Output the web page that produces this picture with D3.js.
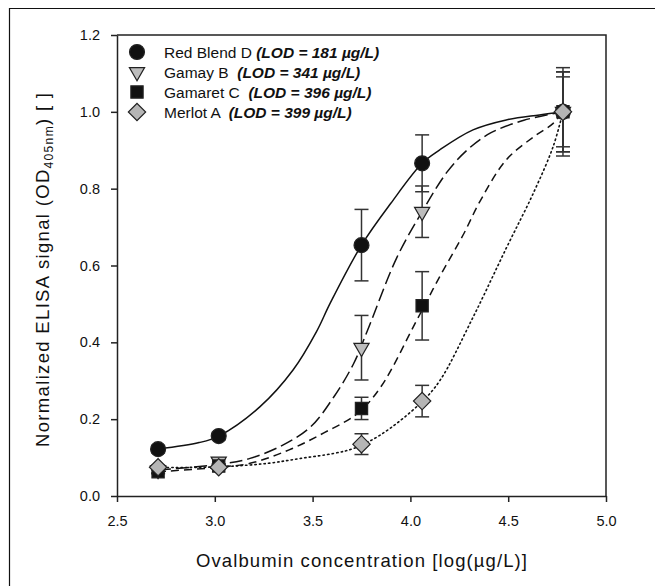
<!DOCTYPE html>
<html>
<head>
<meta charset="utf-8">
<script src="https://cdn.jsdelivr.net/npm/d3@7"></script>
<style>
  body { margin: 0; background: #fff; }
  text { font-family: "Liberation Sans", Arial, sans-serif; fill: #111; }
</style>
</head>
<body>
<svg width="655" height="586"></svg>
<script>
// measured points
const concentrations = [2.71, 3.02, 3.75, 4.06, 4.78];

const redBlendD = [0.122, 0.156, 0.653, 0.866, 1.0];
const redBlendDErr = [0.01, 0.01, 0.093, 0.074, 0.115];
const gamayB = [0.068, 0.09, 0.386, 0.740, 1.0];
const gamayBErr = [0.008, 0.008, 0.084, 0.067, 0.104];
const gamaretC = [0.063, 0.078, 0.228, 0.495, 1.0];
const gamaretCErr = [0.005, 0.006, 0.029, 0.089, 0.091];
const merlotA = [0.075, 0.075, 0.135, 0.247, 1.0];
const merlotAErr = [0.005, 0.005, 0.027, 0.041, 0.104];

// fitted curves
const redFitX = [2.71, 2.92, 3.02, 3.23, 3.40, 3.52, 3.59, 3.75, 3.90, 4.06, 4.15, 4.32, 4.49, 4.66, 4.78];
const redFitY = [0.122, 0.139, 0.156, 0.232, 0.328, 0.428, 0.502, 0.653, 0.762, 0.866, 0.901, 0.953, 0.979, 0.992, 1.0];
const gamayFitX = [2.71, 3.02, 3.18, 3.35, 3.49, 3.61, 3.71, 3.78, 3.93, 4.06, 4.19, 4.30, 4.41, 4.58, 4.78];
const gamayFitY = [0.068, 0.082, 0.098, 0.133, 0.18, 0.259, 0.345, 0.43, 0.62, 0.74, 0.845, 0.905, 0.945, 0.978, 1.0];
const gamaretFitX = [2.71, 3.02, 3.18, 3.38, 3.56, 3.73, 3.85, 4.03, 4.15, 4.27, 4.36, 4.49, 4.63, 4.73, 4.78];
const gamaretFitY = [0.063, 0.075, 0.085, 0.12, 0.165, 0.215, 0.285, 0.455, 0.571, 0.68, 0.771, 0.875, 0.935, 0.97, 1.0];
const merlotFitX = [2.71, 3.02, 3.27, 3.44, 3.61, 3.71, 3.85, 4.05, 4.15, 4.32, 4.49, 4.63, 4.73, 4.78];
const merlotFitY = [0.074, 0.076, 0.085, 0.098, 0.111, 0.124, 0.16, 0.241, 0.30, 0.465, 0.645, 0.79, 0.91, 1.0];

const seriesNames = ['Red Blend D', 'Gamay B ', 'Gamaret C ', 'Merlot A '];
const lodLabels = ['(LOD = 181 µg/L)', '(LOD = 341 µg/L)', '(LOD = 396 µg/L)', '(LOD = 399 µg/L)'];

const xTicks = [2.5, 3.0, 3.5, 4.0, 4.5, 5.0];
const yTicks = [0.0, 0.2, 0.4, 0.6, 0.8, 1.0, 1.2];

const svg = d3.select('svg');

// outer frame (top + left only are visible)
svg.append('path')
    .attr('d', 'M9.5,586V8.5H655')
    .attr('fill', 'none')
    .attr('stroke', '#111')
    .attr('stroke-width', 1.2);

const x = d3.scaleLinear().domain([2.5, 5.0]).range([117, 606]);
const y = d3.scaleLinear().domain([0, 1.2]).range([496, 35]);

const series = [
    {name: seriesNames[0], lod: lodLabels[0], vals: redBlendD, err: redBlendDErr, fx: redFitX, fy: redFitY,
        dash: null, shape: 'circle', fill: '#111'},
    {name: seriesNames[1], lod: lodLabels[1], vals: gamayB, err: gamayBErr, fx: gamayFitX, fy: gamayFitY,
        dash: '13,5', shape: 'triangle', fill: '#bdbdbd'},
    {name: seriesNames[2], lod: lodLabels[2], vals: gamaretC, err: gamaretCErr, fx: gamaretFitX, fy: gamaretFitY,
        dash: '8,5', shape: 'square', fill: '#111'},
    {name: seriesNames[3], lod: lodLabels[3], vals: merlotA, err: merlotAErr, fx: merlotFitX, fy: merlotFitY,
        dash: '1.4,3.2', shape: 'diamond', fill: '#b5b5b5'}
];

function symbolPath(shape) {
    if (shape === 'circle') return d3.symbol(d3.symbolCircle, 175)();
    if (shape === 'square') return d3.symbol(d3.symbolSquare, 150)();
    if (shape === 'diamond') return d3.symbol(d3.symbolSquare, 150)();
    return d3.symbol(d3.symbolTriangle, 100)();
}
function symbolRotate(shape) {
    if (shape === 'diamond') return 45;
    if (shape === 'triangle') return 180;
    return 0;
}

// axes
const xAxis = svg.append('g')
    .attr('transform', `translate(0,${y(0)})`)
    .call(d3.axisBottom(x).tickValues(xTicks).tickFormat(d3.format('.1f')).tickSize(6).tickSizeOuter(0).tickPadding(14));
const yAxis = svg.append('g')
    .attr('transform', `translate(${x(2.5)},0)`)
    .call(d3.axisLeft(y).tickValues(yTicks).tickFormat(d3.format('.1f')).tickSize(6).tickSizeOuter(0).tickPadding(11));

[xAxis, yAxis].forEach(function (g) {
    g.select('.domain').attr('stroke', '#222').attr('stroke-width', 1.5);
    g.selectAll('.tick line').attr('stroke', '#222').attr('stroke-width', 1.5);
    g.selectAll('.tick text')
        .attr('font-size', 14.5)
        .attr('font-family', '"Liberation Sans", Arial, sans-serif')
        .attr('fill', '#111');
});

// top and right box lines
svg.append('path')
    .attr('d', `M${x(2.5)},${y(1.2)}H${x(5.0)}V${y(0)}`)
    .attr('fill', 'none')
    .attr('stroke', '#222')
    .attr('stroke-width', 1.5);

// fit curves
const line = d3.line()
    .x(function (d) { return x(d[0]); })
    .y(function (d) { return y(d[1]); })
    .curve(d3.curveCatmullRom.alpha(0.5));

svg.append('g')
    .selectAll('path')
    .data(series)
    .enter().append('path')
    .attr('d', function (s) { return line(d3.zip(s.fx, s.fy)); })
    .attr('fill', 'none')
    .attr('stroke', '#111')
    .attr('stroke-width', function (s) { return s.shape === 'diamond' ? 1.6 : 1.5; })
    .attr('stroke-linecap', function (s) { return s.shape === 'diamond' ? 'round' : 'butt'; })
    .attr('stroke-dasharray', function (s) { return s.dash; });

// error bars
const errG = svg.append('g').attr('stroke', '#333').attr('stroke-width', 1.5);
series.forEach(function (s) {
    s.vals.forEach(function (v, i) {
        const cx = x(concentrations[i]);
        const top = y(v + s.err[i]);
        const bot = y(v - s.err[i]);
        errG.append('line').attr('x1', cx).attr('x2', cx).attr('y1', top).attr('y2', bot);
        errG.append('line').attr('x1', cx - 7).attr('x2', cx + 7).attr('y1', top).attr('y2', top);
        errG.append('line').attr('x1', cx - 7).attr('x2', cx + 7).attr('y1', bot).attr('y2', bot);
    });
});

// markers
series.forEach(function (s) {
    svg.append('g')
        .selectAll('path')
        .data(s.vals)
        .enter().append('path')
        .attr('d', symbolPath(s.shape))
        .attr('transform', function (v, i) {
            return `translate(${x(concentrations[i])},${y(v)}) rotate(${symbolRotate(s.shape)})`;
        })
        .attr('fill', s.fill)
        .attr('stroke', '#222')
        .attr('stroke-width', 1.2);
});

// legend
const legend = svg.append('g');
series.forEach(function (s, i) {
    const ly = 52 + i * 20;
    legend.append('path')
        .attr('d', symbolPath(s.shape))
        .attr('transform', `translate(137,${ly}) rotate(${symbolRotate(s.shape)})`)
        .attr('fill', s.fill)
        .attr('stroke', '#222')
        .attr('stroke-width', 1.2);
    const t = legend.append('text')
        .attr('x', 164)
        .attr('y', ly + 5.5)
        .attr('font-size', 15.5)
        .attr('xml:space', 'preserve');
    t.append('tspan').text(s.name + ' ');
    t.append('tspan').attr('font-weight', 'bold').attr('font-style', 'italic').text(s.lod);
});

// axis titles
svg.append('text')
    .attr('x', (x(2.5) + x(5.0)) / 2)
    .attr('y', 567)
    .attr('text-anchor', 'middle')
    .attr('font-size', 18.5)
    .attr('textLength', 331)
    .attr('lengthAdjust', 'spacing')
    .text('Ovalbumin concentration [log(µg/L)]');

const yt = svg.append('text')
    .attr('transform', `translate(49,270) rotate(-90)`)
    .attr('text-anchor', 'middle')
    .attr('font-size', 18.5)
    .attr('textLength', 354)
    .attr('lengthAdjust', 'spacing');
yt.append('tspan').text('Normalized ELISA signal (OD');
yt.append('tspan').attr('font-size', 12).attr('dy', 4).text('405nm');
yt.append('tspan').attr('dy', -4).text(') [ ]');
</script>
</body>
</html>
